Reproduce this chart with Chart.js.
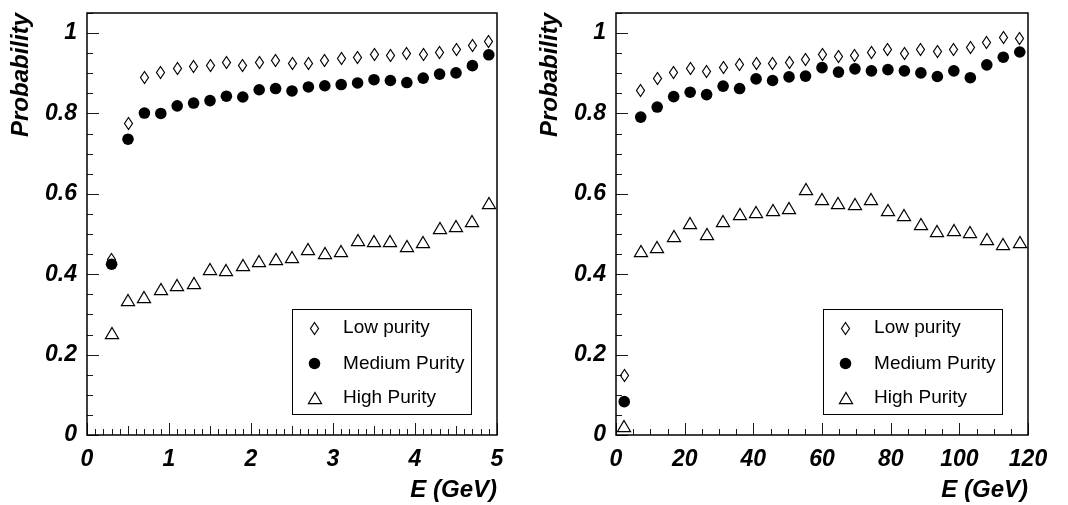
<!DOCTYPE html>
<html>
<head>
<meta charset="utf-8">
<script src="https://cdn.jsdelivr.net/npm/chart.js@4.4.1/dist/chart.umd.min.js"></script>
<style>
  html, body { margin: 0; padding: 0; background: #fff; }
  #wrap { position: relative; width: 1068px; height: 505px; overflow: hidden; background: #fff; }
  #wrap canvas { position: absolute; top: 0; }
  #panelLow { left: 0; }
  #panelHigh { left: 529px; }
</style>
</head>
<body>
<div id="wrap">
  <canvas id="panelLow" width="529" height="505"></canvas>
  <canvas id="panelHigh" width="539" height="505"></canvas>
</div>
<script>
// ---- data ----
const seriesNames = ['Low purity', 'Medium Purity', 'High Purity'];

// low-energy range, E in GeV
const energyLow = [0.3, 0.5, 0.7, 0.9, 1.1, 1.3, 1.5, 1.7, 1.9, 2.1, 2.3, 2.5,
                   2.7, 2.9, 3.1, 3.3, 3.5, 3.7, 3.9, 4.1, 4.3, 4.5, 4.7, 4.9];
const lowPurityLowE = [0.436, 0.776, 0.889, 0.901, 0.913, 0.917, 0.919, 0.927, 0.919, 0.928, 0.932, 0.924,
                       0.925, 0.932, 0.936, 0.940, 0.946, 0.944, 0.949, 0.946, 0.951, 0.959, 0.968, 0.980];
const mediumPurityLowE = [0.425, 0.736, 0.801, 0.800, 0.819, 0.826, 0.832, 0.843, 0.841, 0.859, 0.862, 0.856,
                          0.866, 0.869, 0.872, 0.876, 0.884, 0.882, 0.877, 0.888, 0.898, 0.901, 0.919, 0.946];
const highPurityLowE = [0.254, 0.337, 0.344, 0.363, 0.374, 0.377, 0.412, 0.410, 0.423, 0.432, 0.437, 0.442,
                        0.462, 0.452, 0.459, 0.485, 0.482, 0.483, 0.471, 0.480, 0.515, 0.521, 0.533, 0.577];

// high-energy range, E in GeV
const energyHigh = [2.4, 7.2, 12, 16.8, 21.6, 26.4, 31.2, 36, 40.8, 45.6, 50.4, 55.2, 60,
                    64.8, 69.6, 74.4, 79.2, 84, 88.8, 93.6, 98.4, 103.2, 108, 112.8, 117.6];
const lowPurityHighE = [0.149, 0.856, 0.888, 0.901, 0.911, 0.905, 0.915, 0.921, 0.924, 0.924, 0.928, 0.934, 0.947,
                        0.943, 0.944, 0.951, 0.959, 0.949, 0.960, 0.953, 0.959, 0.965, 0.976, 0.988, 0.986];
const mediumPurityHighE = [0.083, 0.791, 0.816, 0.842, 0.853, 0.847, 0.868, 0.862, 0.886, 0.882, 0.891, 0.893, 0.914,
                           0.903, 0.911, 0.906, 0.909, 0.906, 0.901, 0.892, 0.906, 0.889, 0.921, 0.940, 0.953];
const highPurityHighE = [0.022, 0.457, 0.468, 0.495, 0.528, 0.499, 0.533, 0.551, 0.554, 0.561, 0.566, 0.613, 0.588,
                         0.578, 0.576, 0.587, 0.561, 0.548, 0.524, 0.507, 0.511, 0.505, 0.487, 0.475, 0.479];

// axis ticks
const probabilityTicks = [0, 0.2, 0.4, 0.6, 0.8, 1];
const energyTicksLow = [0, 1, 2, 3, 4, 5];
const energyTicksHigh = [0, 20, 40, 60, 80, 100, 120];

// ---- style ----
const FONT = "'Liberation Sans', Arial, Helvetica, sans-serif";
const tickFont = { family: FONT, size: 23, weight: 'bold', style: 'italic' };
const titleFont = { family: FONT, size: 24, weight: 'bold', style: 'italic' };

function markerCanvas(w, h, lw, path) {
  const c = document.createElement('canvas');
  c.width = w; c.height = h;
  const g = c.getContext('2d');
  g.strokeStyle = '#000';
  g.lineWidth = lw;
  g.lineJoin = 'miter';
  g.beginPath();
  path(g);
  g.closePath();
  g.stroke();
  return c;
}
// open, narrow diamond
const diamondMark = markerCanvas(11, 15, 1.2, g => {
  g.moveTo(5.5, 1.5); g.lineTo(9.5, 7.5); g.lineTo(5.5, 13.5); g.lineTo(1.5, 7.5);
});
// open triangle, box-centred
const triangleMark = markerCanvas(16, 14, 1.25, g => {
  g.moveTo(8, 1.5); g.lineTo(14.5, 12.5); g.lineTo(1.5, 12.5);
});

// frame, inward ticks and the legend box
const decor = {
  id: 'decor',
  beforeDatasetsDraw(chart, _args, o) {
    const { ctx, chartArea: a, scales: { x, y } } = chart;
    ctx.save();
    ctx.strokeStyle = '#1a1a1a';
    ctx.lineWidth = 1;
    for (let i = 0; i * o.yMinor <= y.max + 1e-9; i++) {
      const py = Math.round(y.getPixelForValue(i * o.yMinor)) + 0.5;
      const len = i % o.yMajorEvery === 0 ? 12 : 6;
      ctx.beginPath(); ctx.moveTo(a.left, py); ctx.lineTo(a.left + len, py); ctx.stroke();
    }
    for (let i = 0; i * o.xMinor <= x.max + 1e-9; i++) {
      const px = Math.round(x.getPixelForValue(i * o.xMinor)) + 0.5;
      let len = 6;
      if (i % o.xMajorEvery === 0) len = 12;
      else if (o.xMidEvery && i % o.xMidEvery === 0) len = 9;
      ctx.beginPath(); ctx.moveTo(px, a.bottom); ctx.lineTo(px, a.bottom - len); ctx.stroke();
    }
    ctx.strokeStyle = '#000';
    ctx.lineWidth = 1.5;
    ctx.strokeRect(a.left, a.top, a.right - a.left, a.bottom - a.top);
    ctx.restore();
    // keep the open markers crisp on the pixel grid
    ctx.imageSmoothingEnabled = false;
  },
  afterDatasetsDraw(chart) {
    const { ctx, chartArea: a } = chart;
    const bw = 179, bh = 105;
    const bx = Math.round(a.right - 26 - bw) + 0.5;
    const by = 309.5;
    const rows = [18.5, 54, 88];
    ctx.save();
    ctx.fillStyle = '#fff';
    ctx.fillRect(bx, by, bw, bh);
    ctx.strokeStyle = '#000';
    ctx.lineWidth = 1;
    ctx.strokeRect(bx, by, bw, bh);
    ctx.font = `19px ${FONT}`;
    ctx.textBaseline = 'middle';
    ctx.textAlign = 'left';
    chart.data.datasets.forEach((ds, i) => {
      const cy = by + rows[i];
      const cx = bx + 22;
      const st = ds.pointStyle;
      if (typeof st === 'object') {
        ctx.drawImage(st, Math.round(cx - st.width / 2), Math.round(cy - st.height / 2));
      } else {
        ctx.beginPath();
        ctx.arc(cx, cy, ds.pointRadius, 0, Math.PI * 2);
        ctx.fillStyle = '#000';
        ctx.fill();
      }
      ctx.fillStyle = '#000';
      ctx.fillText(ds.label, bx + 50.6, cy);
    });
    ctx.restore();
  }
};

function points(xs, ys) {
  return xs.map((x, i) => ({ x, y: ys[i] }));
}

function buildPanel(id, energies, low, med, high, xMax, xTicks, rightPad, tickOpts) {
  return new Chart(document.getElementById(id), {
    type: 'scatter',
    data: {
      datasets: [
        { label: seriesNames[0], data: points(energies, low), pointStyle: diamondMark, pointRadius: 6,
          borderColor: '#000', backgroundColor: '#000' },
        { label: seriesNames[1], data: points(energies, med), pointStyle: 'circle', pointRadius: 5.8,
          borderWidth: 0, borderColor: '#000', backgroundColor: '#000' },
        { label: seriesNames[2], data: points(energies, high), pointStyle: triangleMark, pointRadius: 6,
          borderColor: '#000', backgroundColor: '#000' }
      ]
    },
    options: {
      responsive: false,
      animation: false,
      devicePixelRatio: 1,
      events: [],
      layout: { padding: { left: 0, right: rightPad, top: 13, bottom: 0 } },
      plugins: {
        legend: { display: false },
        tooltip: { enabled: false },
        decor: tickOpts
      },
      scales: {
        x: {
          type: 'linear', min: 0, max: xMax,
          afterBuildTicks: s => { s.ticks = xTicks.map(v => ({ value: v })); },
          afterFit: s => { s.height = 70; s.paddingLeft = 0; s.paddingRight = 0; },
          grid: { display: false, drawTicks: false },
          border: { display: false },
          ticks: { font: tickFont, color: '#000', padding: 11, maxRotation: 0, autoSkip: false,
                   callback: v => String(v) },
          title: { display: true, text: 'E (GeV)', align: 'end', font: titleFont, color: '#000',
                   padding: { top: 0, bottom: 0 } }
        },
        y: {
          type: 'linear', min: 0, max: 1.05,
          afterBuildTicks: s => { s.ticks = probabilityTicks.map(v => ({ value: v })); },
          afterFit: s => { s.width = 87; s.paddingTop = 0; s.paddingBottom = 0; },
          grid: { display: false, drawTicks: false },
          border: { display: false },
          ticks: { font: tickFont, color: '#000', padding: 10, autoSkip: false,
                   callback: v => String(Math.round(v * 10) / 10) },
          title: { display: true, text: 'Probability', align: 'end', font: titleFont, color: '#000',
                   padding: { top: 6.5, bottom: 0 } }
        }
      }
    },
    plugins: [decor]
  });
}

buildPanel('panelLow', energyLow, lowPurityLowE, mediumPurityLowE, highPurityLowE,
           5, energyTicksLow, 32,
           { yMinor: 0.05, yMajorEvery: 4, xMinor: 0.1, xMajorEvery: 10, xMidEvery: 5 });
buildPanel('panelHigh', energyHigh, lowPurityHighE, mediumPurityHighE, highPurityHighE,
           120, energyTicksHigh, 40,
           { yMinor: 0.05, yMajorEvery: 4, xMinor: 5, xMajorEvery: 4, xMidEvery: 0 });
</script>
</body>
</html>
